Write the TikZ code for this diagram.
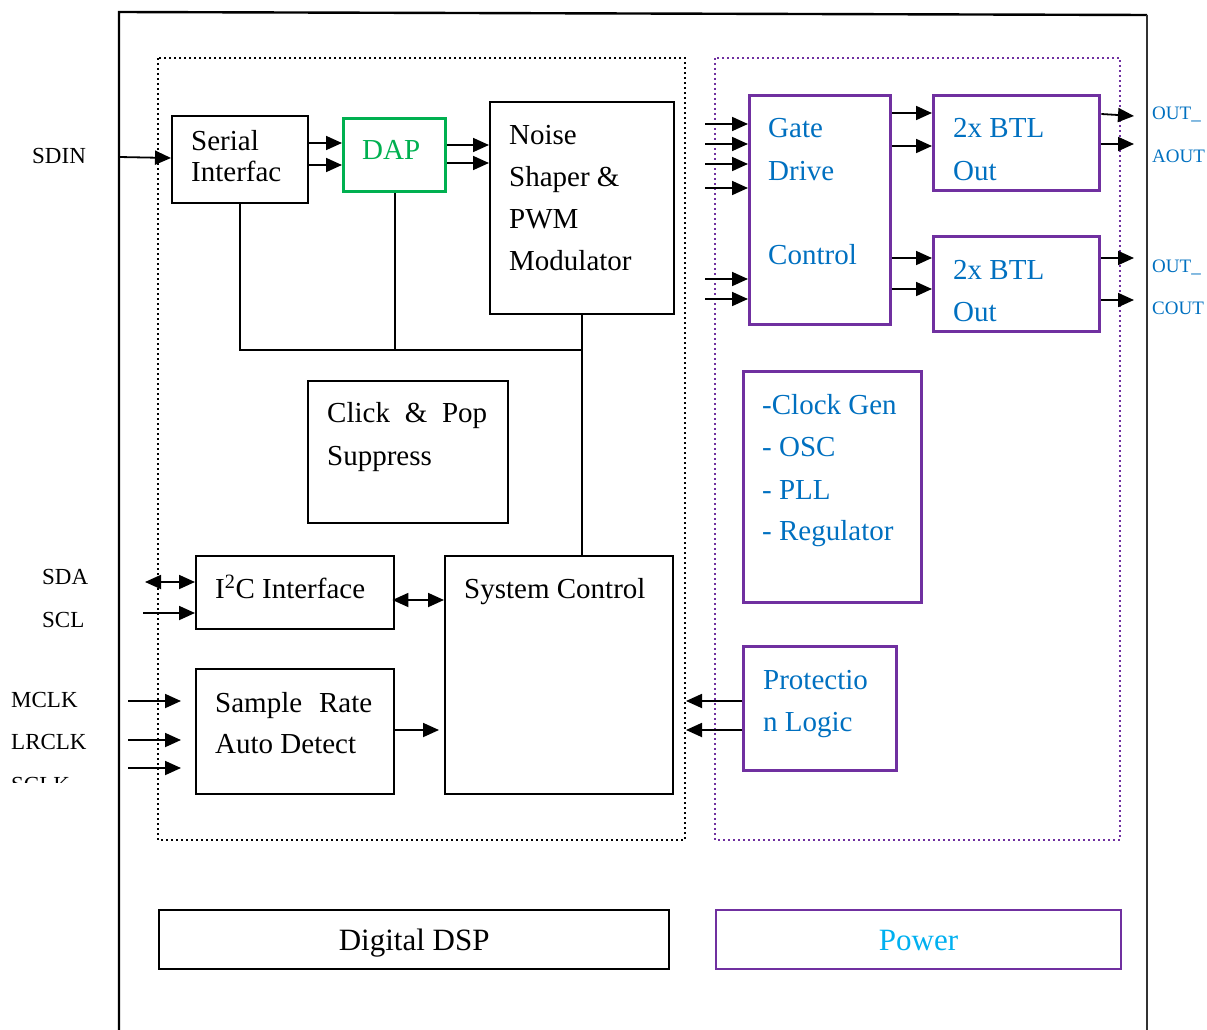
\documentclass[tikz,border=0pt]{standalone}
\usepackage{fontspec}
\setmainfont{Liberation Serif}
\usetikzlibrary{arrows.meta}
\definecolor{pur}{HTML}{7030A0}
\definecolor{tblue}{HTML}{0070C0}
\definecolor{tgreen}{HTML}{00B050}
\definecolor{tcyan}{HTML}{00B0F0}
\begin{document}
\begin{tikzpicture}[x=1pt,y=-1pt,
  bx/.style={draw=black, line width=2.4pt, anchor=north west, inner sep=0pt},
  pbx/.style={draw=pur, line width=3.4pt, anchor=north west, inner sep=0pt},
  tx/.style={anchor=base west, inner sep=0pt, font=\fontsize{29}{34}\selectfont},
  btx/.style={tx, text=tblue},
  lbl/.style={anchor=base west, inner sep=0pt, font=\fontsize{23}{27}\selectfont},
  olbl/.style={anchor=base west, inner sep=0pt, font=\fontsize{19}{22}\selectfont, text=tblue},
  ln/.style={line width=1.8pt},
  arr/.style={line width=1.8pt, -{Triangle[length=16pt,width=14pt]}},
  darr/.style={line width=1.8pt, {Triangle[length=16pt,width=14pt]}-{Triangle[length=16pt,width=14pt]}},
  dotb/.style={line width=2pt, dash pattern=on 2pt off 3pt},
]
\useasboundingbox (0,0) rectangle (1207,1030);

% outer frame
\draw[line width=2.4pt] (119,1032) -- (119,12) -- (1147,15);
\draw[line width=1.6pt, black!80] (1147,15) -- (1147,1032);

% dotted regions
\draw[dotb, black] (158,58) rectangle (685,840);
\draw[dotb, pur] (715,58) rectangle (1120,840);

% ---------- Digital side ----------
\node[bx, minimum width=136pt, minimum height=87pt] (ser) at (171,115) {};
\node[tx] (sert1) at (191,150) {Serial};
\node[tx] (sert2) at (191,181) {Interfac};

\node[draw=tgreen, line width=3.2pt, anchor=north west, inner sep=0pt, minimum width=102pt, minimum height=73pt] (dap) at (342,117) {};
\node[tx, text=tgreen] (dapt) at (362,159) {DAP};

\node[bx, minimum width=184pt, minimum height=212pt] (nsp) at (489,101) {};
\node[tx] (nspt1) at (509,144) {Noise};
\node[tx] (nspt2) at (509,186) {Shaper \&};
\node[tx] (nspt3) at (509,228) {PWM};
\node[tx] (nspt4) at (509,270) {Modulator};

\node[bx, minimum width=200pt, minimum height=142pt] (cps) at (307,380) {};
\node[tx] (cpst1) at (327,422) {\makebox[160pt][s]{Click \& Pop}};
\node[tx] (cpst2) at (327,465) {Suppress};

\node[bx, minimum width=198pt, minimum height=73pt] (i2c) at (195,555) {};
\node[tx] (i2ct) at (215,598) {I\textsuperscript{2}C Interface};

\node[bx, minimum width=228pt, minimum height=238pt] (sys) at (444,555) {};
\node[tx] (syst) at (464,598) {System Control};

\node[bx, minimum width=198pt, minimum height=125pt] (sra) at (195,668) {};
\node[tx] (srat1) at (215,712) {\makebox[157pt][s]{Sample Rate}};
\node[tx] (srat2) at (215,753) {Auto Detect};

% internal connectors
\draw[arr] (ser.east |- 0,143) -- (dap.west |- 0,143);
\draw[arr] (ser.east |- 0,165) -- (dap.west |- 0,165);
\draw[arr] (dap.east |- 0,145) -- (nsp.west |- 0,145);
\draw[arr] (dap.east |- 0,163) -- (nsp.west |- 0,163);
\draw[ln] (ser.south) |- (nsp.south |- 0,350);
\draw[ln] (dap.south) -- (dap.south |- 0,350);
\draw[ln] (nsp.south) -- (nsp.south |- sys.north);
\draw[darr] ([xshift=-3pt]i2c.east |- 0,600) -- (sys.west |- 0,600);
\draw[arr, shorten >=5pt] (sra.east |- 0,730) -- (sys.west |- 0,730);

% left inputs
\coordinate (sdinS) at (119,157);
\coordinate (sdaS) at (145,582);
\coordinate (sclS) at (143,613);
\coordinate (mclkS) at (128,701);
\coordinate (lrclkS) at (128,740);
\coordinate (sclkS) at (128,768);
\draw[arr] (sdinS) -- (ser.west |- 0,158);
\draw[darr] (sdaS) -- (i2c.west |- sdaS);
\draw[arr] (sclS) -- (i2c.west |- sclS);
\draw[arr, shorten >=14pt] (mclkS) -- (sra.west |- mclkS);
\draw[arr, shorten >=14pt] (lrclkS) -- (sra.west |- lrclkS);
\draw[arr, shorten >=14pt] (sclkS) -- (sra.west |- sclkS);

\node[lbl] (sdin) at (32,163) {SDIN};
\node[lbl] (sda) at (42,584) {SDA};
\node[lbl] (scl) at (42,627) {SCL};
\node[lbl] (mclk) at (11,707) {MCLK};
\node[lbl] (lrclk) at (11,749) {LRCLK};
\begin{scope}
  \clip (0,0) rectangle (118,782);
  \node[lbl] (sclk) at (11,792) {SCLK};
\end{scope}

% ---------- Power side ----------
\node[pbx, minimum width=141pt, minimum height=229pt] (gate) at (748,94) {};
\node[btx] (gatet1) at (768,138) {Gate};
\node[btx] (gatet2) at (768,180) {Drive};
\node[btx] (gatet3) at (768,264) {Control};

\node[pbx, minimum width=166pt, minimum height=95pt] (btl1) at (932,94) {};
\node[btx] (btl1t1) at (953,138) {2x BTL};
\node[btx] (btl1t2) at (953,180) {Out};

\node[pbx, minimum width=166pt, minimum height=95pt] (btl2) at (932,235) {};
\node[btx] (btl2t1) at (953,279) {2x BTL};
\node[btx] (btl2t2) at (953,321) {Out};

\node[pbx, minimum width=178pt, minimum height=231pt] (clk) at (742,370) {};
\node[btx] (clkt1) at (762,414) {-Clock Gen};
\node[btx] (clkt2) at (762,456) {- OSC};
\node[btx] (clkt3) at (762,499) {- PLL};
\node[btx] (clkt4) at (762,540) {- Regulator};

\node[pbx, minimum width=153pt, minimum height=124pt] (prot) at (742,645) {};
\node[btx] (prott1) at (763,689) {Protectio};
\node[btx] (prott2) at (763,731) {n Logic};

% gate inputs
\foreach \yy [count=\i] in {124,144,164,188,279,299} {
  \coordinate (gin\i) at (705,\yy);
  \draw[arr] (gin\i) -- (gate.west |- gin\i);
}
\draw[arr] (gate.east |- 0,113) -- (btl1.west |- 0,113);
\draw[arr] (gate.east |- 0,146) -- (btl1.west |- 0,146);
\draw[arr] (gate.east |- 0,258) -- (btl2.west |- 0,258);
\draw[arr] (gate.east |- 0,289) -- (btl2.west |- 0,289);

\coordinate (o1) at (1134,116);
\coordinate (o2) at (1134,144);
\coordinate (o3) at (1134,258);
\coordinate (o4) at (1134,300);
\draw[arr] (btl1.east |- 0,114) -- (o1);
\draw[arr] (btl1.east |- o2) -- (o2);
\draw[arr] (btl2.east |- o3) -- (o3);
\draw[arr] (btl2.east |- o4) -- (o4);
\node[olbl] (out1) at (1152,120) {OUT\_};
\node[olbl] (out2) at (1152,162) {AOUT};
\node[olbl] (out3) at (1152,272) {OUT\_};
\node[olbl] (out4) at (1152,314) {COUT};

\coordinate (p1) at (686,701);
\coordinate (p2) at (686,730);
\draw[arr] (prot.west |- p1) -- (p1);
\draw[arr] (prot.west |- p2) -- (p2);

% ---------- bottom legend ----------
\node[draw=black, line width=2.4pt, anchor=north west, minimum width=510pt, minimum height=59pt] (dsp) at (158,909) {};
\node[anchor=base, inner sep=0pt, font=\fontsize{31}{36}\selectfont] (dspt) at ([yshift=-11pt]dsp.center) {Digital DSP};
\node[draw=pur, line width=2pt, anchor=north west, minimum width=405pt, minimum height=59pt] (pwr) at (715,909) {};
\node[anchor=base, inner sep=0pt, font=\fontsize{31}{36}\selectfont, text=tcyan] (pwrt) at ([yshift=-11pt]pwr.center) {Power};
\end{tikzpicture}
\end{document}
